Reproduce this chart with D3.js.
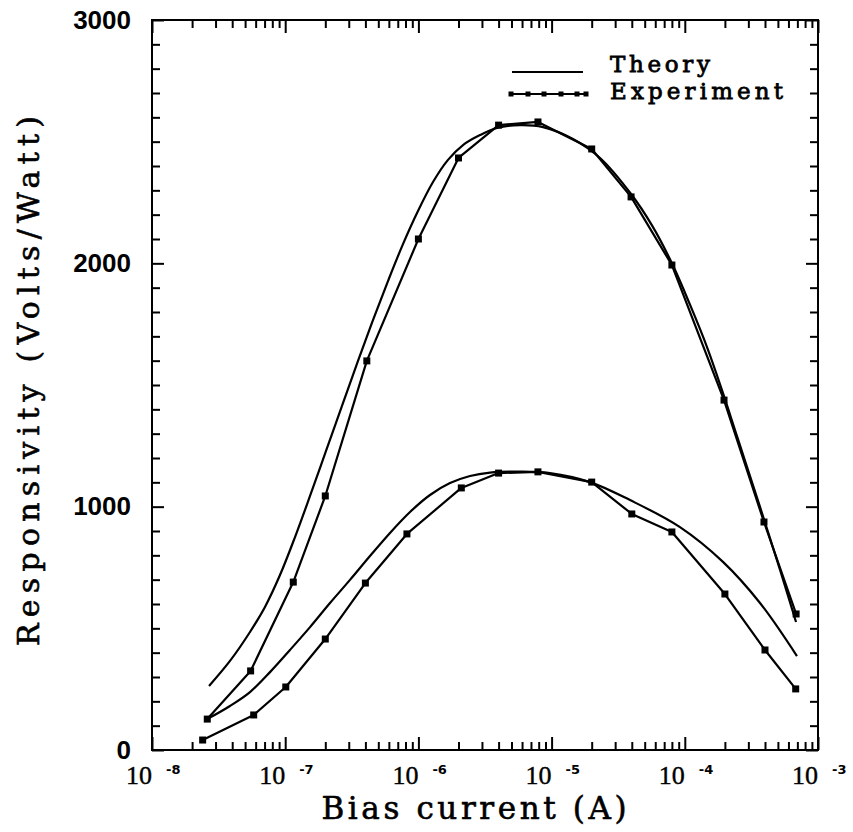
<!DOCTYPE html>
<html>
<head>
<meta charset="utf-8">
<script src="https://cdn.jsdelivr.net/npm/d3@7"></script>
<style>
  html, body { margin: 0; padding: 0; background: #fff; }
  svg { display: block; }
</style>
</head>
<body>
<svg id="chart" width="853" height="832"></svg>
<script>
// ---- data ----
const xDecadeExponents = [-8, -7, -6, -5, -4, -3];
const yTickValues = [0, 1000, 2000, 3000];
const yTickLabels = ["0", "1000", "2000", "3000"];

const theoryUpperX = [2.68e-8, 3.85e-8, 5.44e-8, 7.05e-8, 9.14e-8, 1.185e-7, 1.536e-7, 2.025e-7, 2.669e-7, 3.52e-7, 4.56e-7, 5.91e-7, 7.66e-7, 9.93e-7, 1.287e-6, 1.668e-6, 2.162e-6, 2.9e-6, 3.89e-6, 5.79e-6, 8.62e-6, 1.447e-5, 2.31e-5, 3.95e-5, 5.67e-5, 8.01e-5, 1.094e-4, 1.468e-4, 1.902e-4, 2.465e-4, 3.67e-4, 5.19e-4, 6.84e-4];
const theoryUpperY = [263, 366, 485, 588, 719, 875, 1044, 1229, 1414, 1599, 1767, 1927, 2079, 2215, 2334, 2425, 2486, 2527, 2556, 2568, 2560, 2511, 2433, 2285, 2156, 2000, 1830, 1656, 1479, 1290, 999, 740, 526];

const theoryLowerX = [2.59e-8, 3.85e-8, 5.44e-8, 7.69e-8, 1.086e-7, 1.536e-7, 2.169e-7, 3.065e-7, 4.33e-7, 6.12e-7, 8.65e-7, 1.222e-6, 1.727e-6, 2.44e-6, 3.45e-6, 5.79e-6, 9.72e-6, 1.942e-5, 3.88e-5, 9.2e-5, 1.935e-4, 3.67e-4, 6.95e-4];
const theoryLowerY = [127, 181, 238, 320, 411, 505, 604, 699, 797, 892, 978, 1048, 1097, 1126, 1140, 1144, 1138, 1101, 1027, 916, 773, 604, 386];

const expUpperX = [2.6e-8, 5.5e-8, 1.15e-7, 2e-7, 4.1e-7, 1e-6, 2e-6, 4e-6, 7.9e-6, 2e-5, 3.95e-5, 8e-5, 1.97e-4, 3.93e-4, 6.85e-4];
const expUpperY = [127, 325, 690, 1044, 1599, 2100, 2433, 2568, 2581, 2470, 2273, 1993, 1438, 937, 559];

const expLowerX = [2.4e-8, 5.8e-8, 1.01e-7, 2e-7, 4e-7, 8.2e-7, 2.1e-6, 4e-6, 7.9e-6, 2e-5, 4e-5, 8e-5, 2e-4, 4e-4, 6.8e-4];
const expLowerY = [41, 144, 259, 456, 686, 888, 1077, 1138, 1143, 1101, 970, 896, 641, 411, 251];

const legendLabels = ["Theory", "Experiment"];
const xTitle = "Bias current (A)";
const yTitle = "Responsivity (Volts/Watt)";

// ---- layout ----
const L = 152, R = 818, T = 20, B = 750;
const svg = d3.select("#chart");
const x = d3.scaleLog().domain([1e-8, 1e-3]).range([L, R]);
const y = d3.scaleLinear().domain([0, 3000]).range([B, T]);

const serif = "'DejaVu Serif', 'Liberation Serif', serif";
const sans = "'Liberation Sans', Arial, sans-serif";

const majorX = xDecadeExponents.map(e => Math.pow(10, e));
const minorX = x.ticks().filter(v => !majorX.some(m => Math.abs(Math.log10(v) - Math.log10(m)) < 1e-6));
const minorY = d3.range(0, 3001, 100).filter(v => v % 1000 !== 0);

function styleAxis(g) {
  g.select(".domain").remove();
  g.selectAll(".tick line").attr("stroke", "#000").attr("stroke-width", 2);
}

// bottom axes
svg.append("g").attr("transform", `translate(0,${B})`)
  .call(d3.axisBottom(x).tickValues(minorX).tickSizeInner(-8).tickSizeOuter(0).tickFormat(""))
  .call(styleAxis);
svg.append("g").attr("transform", `translate(0,${B})`)
  .call(d3.axisBottom(x).tickValues(majorX).tickSizeInner(-13).tickSizeOuter(0).tickFormat(""))
  .call(styleAxis);
// top axes
svg.append("g").attr("transform", `translate(0,${T})`)
  .call(d3.axisTop(x).tickValues(minorX).tickSizeInner(-8).tickSizeOuter(0).tickFormat(""))
  .call(styleAxis);
svg.append("g").attr("transform", `translate(0,${T})`)
  .call(d3.axisTop(x).tickValues(majorX).tickSizeInner(-13).tickSizeOuter(0).tickFormat(""))
  .call(styleAxis);
// left axes
svg.append("g").attr("transform", `translate(${L},0)`)
  .call(d3.axisLeft(y).tickValues(minorY).tickSizeInner(-8).tickSizeOuter(0).tickFormat(""))
  .call(styleAxis);
const leftMajor = svg.append("g").attr("transform", `translate(${L},0)`)
  .call(d3.axisLeft(y).tickValues(yTickValues).tickSizeInner(-12).tickSizeOuter(0).tickPadding(21)
    .tickFormat((d, i) => yTickLabels[i]))
  .call(styleAxis);
leftMajor.selectAll(".tick text")
  .attr("font-family", sans).attr("font-weight", "bold").attr("font-size", 26).attr("fill", "#000");
// right axes
svg.append("g").attr("transform", `translate(${R},0)`)
  .call(d3.axisRight(y).tickValues(minorY).tickSizeInner(-8).tickSizeOuter(0).tickFormat(""))
  .call(styleAxis);
svg.append("g").attr("transform", `translate(${R},0)`)
  .call(d3.axisRight(y).tickValues(yTickValues).tickSizeInner(-12).tickSizeOuter(0).tickFormat(""))
  .call(styleAxis);

// frame
svg.append("rect").attr("x", L).attr("y", T).attr("width", R - L).attr("height", B - T)
  .attr("fill", "none").attr("stroke", "#000").attr("stroke-width", 2);

// x tick labels: 10 with superscript exponent
const xl = svg.append("g");
xDecadeExponents.forEach(e => {
  const px = x(Math.pow(10, e));
  xl.append("text").attr("x", px).attr("y", 784).attr("text-anchor", "end")
    .attr("font-family", "'Liberation Serif', serif").attr("font-size", 26).attr("fill", "#000")
    .attr("stroke", "#000").attr("stroke-width", 0.4)
    .text("10");
  xl.append("text").attr("x", px + 14).attr("y", 774).attr("text-anchor", "start")
    .attr("font-family", "'DejaVu Sans', sans-serif").attr("font-weight", "bold").attr("font-size", 13).attr("fill", "#000")
    .text("-" + Math.abs(e));
});

// axis titles
svg.append("text").attr("x", 474).attr("y", 819).attr("text-anchor", "middle")
  .attr("font-family", serif).attr("font-size", 31).attr("fill", "#000")
  .attr("stroke", "#000").attr("stroke-width", 0.6)
  .attr("textLength", 305).attr("lengthAdjust", "spacing")
  .text(xTitle);
svg.append("text").attr("transform", "translate(39,381) rotate(-90)").attr("text-anchor", "middle")
  .attr("font-family", serif).attr("font-size", 30).attr("fill", "#000")
  .attr("stroke", "#000").attr("stroke-width", 0.6)
  .attr("textLength", 530).attr("lengthAdjust", "spacing")
  .text(yTitle);

// curves
const toPts = (xs, ys) => xs.map((v, i) => [v, ys[i]]);
const smooth = d3.line().x(d => x(d[0])).y(d => y(d[1])).curve(d3.curveCatmullRom.alpha(0.5));
const straight = d3.line().x(d => x(d[0])).y(d => y(d[1]));

const plot = svg.append("g");
[[theoryUpperX, theoryUpperY], [theoryLowerX, theoryLowerY]].forEach(([xs, ys]) => {
  plot.append("path").attr("d", smooth(toPts(xs, ys)))
    .attr("fill", "none").attr("stroke", "#000").attr("stroke-width", 2.2).attr("stroke-linejoin", "round");
});
[[expUpperX, expUpperY], [expLowerX, expLowerY]].forEach(([xs, ys]) => {
  const pts = toPts(xs, ys);
  plot.append("path").attr("d", straight(pts))
    .attr("fill", "none").attr("stroke", "#000").attr("stroke-width", 2.2).attr("stroke-linejoin", "round");
  plot.selectAll(null).data(pts).enter().append("rect")
    .attr("x", d => x(d[0]) - 3.5).attr("y", d => y(d[1]) - 3.5)
    .attr("width", 7).attr("height", 7).attr("fill", "#000");
});

// legend
const lg = svg.append("g");
lg.append("line").attr("x1", 512).attr("x2", 583).attr("y1", 72).attr("y2", 72)
  .attr("stroke", "#000").attr("stroke-width", 2);
lg.append("line").attr("x1", 510).attr("x2", 587).attr("y1", 94).attr("y2", 94)
  .attr("stroke", "#000").attr("stroke-width", 2);
[511, 528, 544, 561, 577, 586].forEach(mx => {
  lg.append("rect").attr("x", mx - 2.5).attr("y", 91.5).attr("width", 5).attr("height", 5).attr("fill", "#000");
});
lg.append("text").attr("x", 610).attr("y", 72).attr("font-family", serif).attr("font-size", 23)
  .attr("fill", "#000").attr("stroke", "#000").attr("stroke-width", 0.8)
  .attr("textLength", 100).attr("lengthAdjust", "spacing")
  .text(legendLabels[0]);
lg.append("text").attr("x", 610).attr("y", 99).attr("font-family", serif).attr("font-size", 23)
  .attr("fill", "#000").attr("stroke", "#000").attr("stroke-width", 0.8)
  .attr("textLength", 173).attr("lengthAdjust", "spacing")
  .text(legendLabels[1]);
</script>
</body>
</html>
